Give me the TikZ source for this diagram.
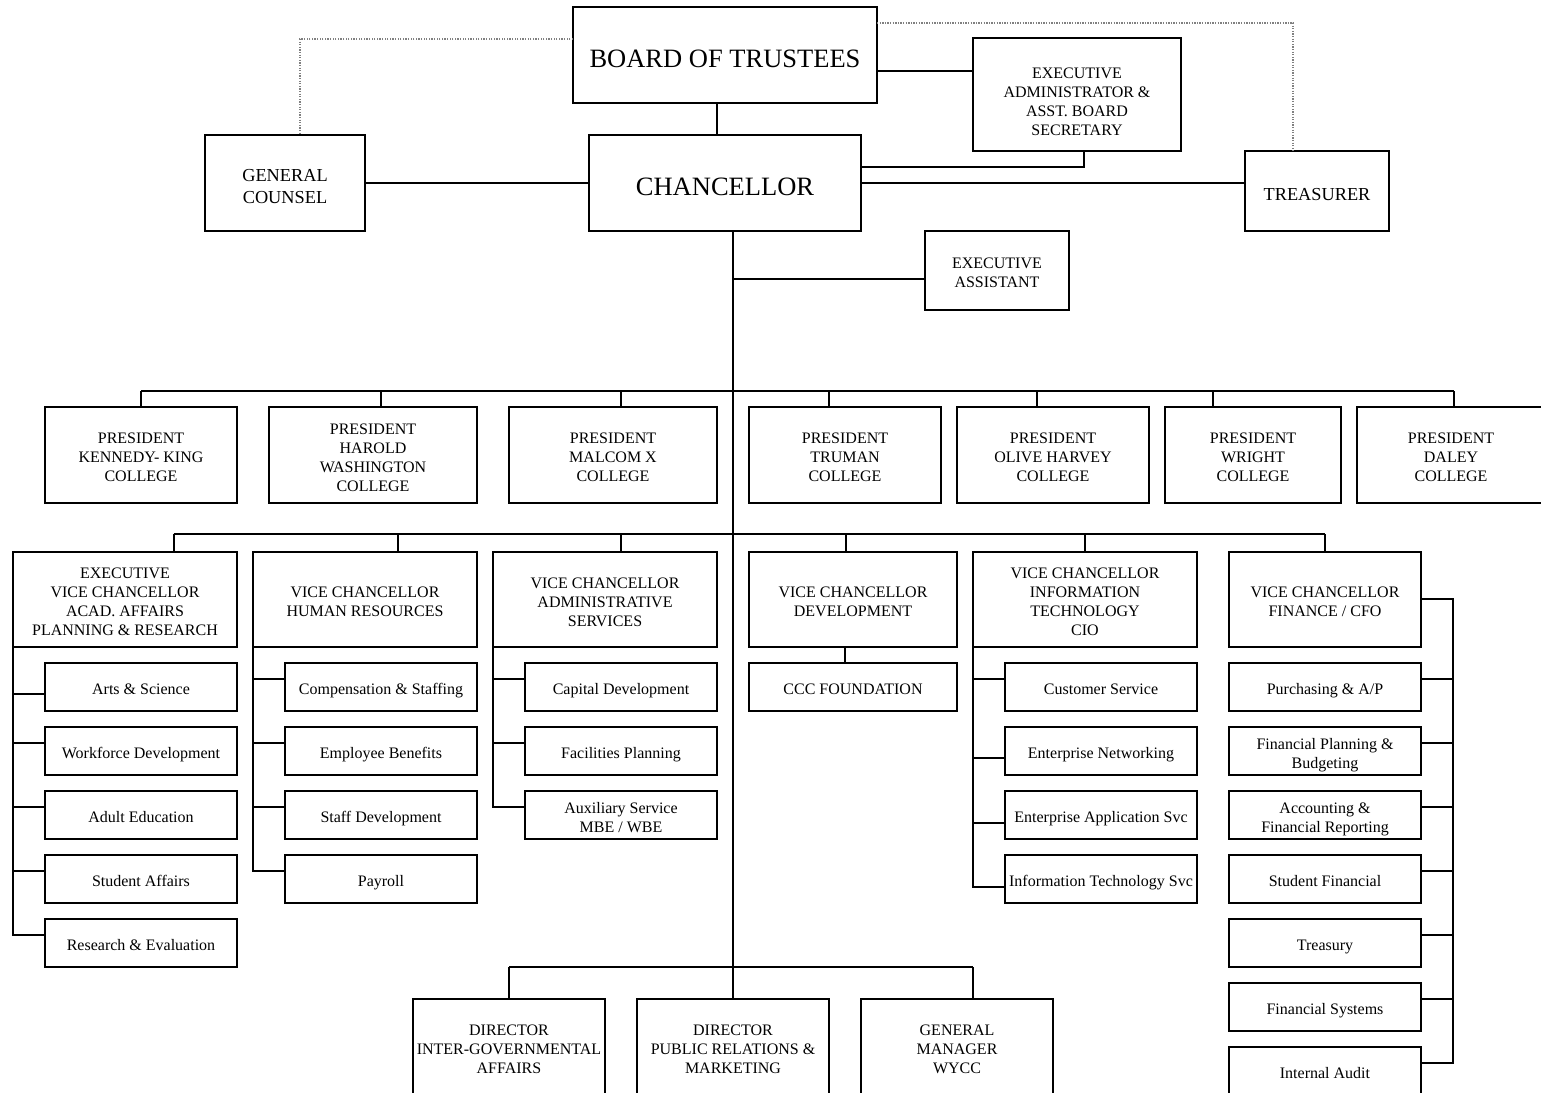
\documentclass[tikz,border=0pt]{standalone}
\usepackage{fontspec}
\setmainfont{Liberation Serif}
\tikzset{
  box/.style={draw, line width=2pt, inner sep=0pt, outer sep=0pt, align=center, fill=white},
  sm/.style={font=\fontsize{16}{19}\selectfont},
  md/.style={font=\fontsize{18.3}{22}\selectfont},
  lg/.style={font=\fontsize{26.5}{30}\selectfont},
  conn/.style={line width=2pt, line join=miter},
  dotline/.style={line width=1.3pt, gray, dash pattern=on 1.3pt off 1.3pt},
}
\newcommand\tstrut{\rule{0pt}{1.05\baselineskip}}
\newcommand\bstrut{\rule[-0.21\baselineskip]{0pt}{0.21\baselineskip}}
% [style]{name}{x1}{y1}{x2}{y2}{text}
\newcommand\orgbox[7][sm]{%
  \node[box,#1,minimum width={#5-#3},minimum height={#6-#4}] (#2)
    at ({(#3+#5)/2},{(#4+#6)/2}) {\tstrut#7\bstrut};}
\begin{document}
\begin{tikzpicture}[x=1pt,y=-1pt]
\clip (0,0) rectangle (1541,1092);
\fill[white] (0,0) rectangle (1541,1092);

\coordinate (jb) at (717,0);
\coordinate (jbe) at (0,71);
\coordinate (jea) at (1084,167);
\coordinate (jt) at (0,183);
\coordinate (dgc) at (300,39);
\coordinate (dtr) at (1293,23);
\coordinate (mx) at (733,0);
\coordinate (mb) at (733,967);
\coordinate (jas) at (733,279);

% ---------- top boxes ----------
\orgbox[lg]{board}{573}{7}{877}{103}{BOARD OF TRUSTEES}
\orgbox{exadm}{973}{38}{1181}{151}{EXECUTIVE\rule{0pt}{28pt}\\ADMINISTRATOR \&\\ASST. BOARD\\SECRETARY}
\orgbox[md]{gc}{205}{135}{365}{231}{GENERAL\\COUNSEL}
\orgbox[lg]{chan}{589}{135}{861}{231}{CHANCELLOR}
\orgbox[md]{treas}{1245}{151}{1389}{231}{TREASURER}
\orgbox{exasst}{925}{231}{1069}{310}{EXECUTIVE\\ASSISTANT}

% ---------- presidents ----------
\orgbox{p1}{45}{407}{237}{503}{PRESIDENT\\KENNEDY- KING\\COLLEGE}
\orgbox{p2}{269}{407}{477}{503}{PRESIDENT\\HAROLD\\WASHINGTON\\COLLEGE}
\orgbox{p3}{509}{407}{717}{503}{PRESIDENT\\MALCOM X\\COLLEGE}
\orgbox{p4}{749}{407}{941}{503}{PRESIDENT\\TRUMAN\\COLLEGE}
\orgbox{p5}{957}{407}{1149}{503}{PRESIDENT\\OLIVE HARVEY\\COLLEGE}
\orgbox{p6}{1165}{407}{1341}{503}{PRESIDENT\\WRIGHT\\COLLEGE}
\orgbox{p7}{1357}{407}{1545}{503}{PRESIDENT\\DALEY\\COLLEGE}

% ---------- vice chancellors ----------
\orgbox{v1}{13}{552}{237}{647}{EXECUTIVE\\VICE CHANCELLOR\\ACAD. AFFAIRS\\PLANNING \& RESEARCH}
\orgbox{v2}{253}{552}{477}{647}{VICE CHANCELLOR\\HUMAN RESOURCES}
\orgbox{v3}{493}{552}{717}{647}{VICE CHANCELLOR\\ADMINISTRATIVE\\SERVICES}
\orgbox{v4}{749}{552}{957}{647}{VICE CHANCELLOR\\DEVELOPMENT}
\orgbox{v5}{973}{552}{1197}{647}{VICE CHANCELLOR\\INFORMATION\\TECHNOLOGY\\CIO}
\orgbox{v6}{1229}{552}{1421}{647}{VICE CHANCELLOR\\FINANCE / CFO}

% ---------- column A ----------
\orgbox{a1}{45}{663}{237}{711}{Arts \& Science}
\orgbox{a2}{45}{727}{237}{775}{Workforce Development}
\orgbox{a3}{45}{791}{237}{839}{Adult Education}
\orgbox{a4}{45}{855}{237}{903}{Student Affairs}
\orgbox{a5}{45}{919}{237}{967}{Research \& Evaluation}
% ---------- column B ----------
\orgbox{b1}{285}{663}{477}{711}{Compensation \& Staffing}
\orgbox{b2}{285}{727}{477}{775}{Employee Benefits}
\orgbox{b3}{285}{791}{477}{839}{Staff Development}
\orgbox{b4}{285}{855}{477}{903}{Payroll}
% ---------- column C ----------
\orgbox{c1}{525}{663}{717}{711}{Capital Development}
\orgbox{c2}{525}{727}{717}{775}{Facilities Planning}
\orgbox{c3}{525}{791}{717}{839}{Auxiliary Service\\MBE / WBE}
% ---------- development ----------
\orgbox{ccc}{749}{663}{957}{711}{CCC FOUNDATION}
% ---------- column E ----------
\orgbox{e1}{1005}{663}{1197}{711}{Customer Service}
\orgbox{e2}{1005}{727}{1197}{775}{Enterprise Networking}
\orgbox{e3}{1005}{791}{1197}{839}{Enterprise Application Svc}
\orgbox{e4}{1005}{855}{1197}{903}{Information Technology Svc}
% ---------- column F ----------
\orgbox{f1}{1229}{663}{1421}{711}{Purchasing \& A/P}
\orgbox{f2}{1229}{727}{1421}{775}{Financial Planning \&\\Budgeting}
\orgbox{f3}{1229}{791}{1421}{839}{Accounting \&\\Financial Reporting}
\orgbox{f4}{1229}{855}{1421}{903}{Student Financial}
\orgbox{f5}{1229}{919}{1421}{967}{Treasury}
\orgbox{f6}{1229}{983}{1421}{1031}{Financial Systems}
\orgbox{f7}{1229}{1047}{1421}{1095}{Internal Audit}

% ---------- bottom ----------
\orgbox{d1}{413}{999}{605}{1095}{DIRECTOR\\INTER-GOVERNMENTAL\\AFFAIRS}
\orgbox{d2}{637}{999}{829}{1095}{DIRECTOR\\PUBLIC RELATIONS \&\\MARKETING}
\orgbox{d3}{861}{999}{1053}{1095}{GENERAL\\MANAGER\\WYCC}

% ---------- top connectors ----------
\draw[conn] (board.south -| jb) -- (chan.north -| jb);
\draw[conn] (board.east |- jbe) -- (exadm.west |- jbe);
\draw[conn] (exadm.south -| jea) -- (jea) -- (chan.east |- jea);
\draw[conn] (chan.east |- jt) -- (treas.west |- jt);
\draw[conn] (gc.east |- jt) -- (chan.west |- jt);
\draw[dotline] (board.west |- dgc) -- (dgc) -- (gc.north -| dgc);
\draw[dotline] (board.east |- dtr) -- (dtr) -- (treas.north -| dtr);

% main spine
\draw[conn] (chan.south -| mx) -- (mb) -- (d2.north);
\draw[conn] (jas) -- (exasst.west |- jas);

% presidents bus
\foreach \n/\x in {p1/141,p2/381,p3/621,p4/829,p5/1037,p6/1213,p7/1453.6}{
  \coordinate (j\n) at (\x,391);
  \draw[conn] (j\n) -- (j\n |- \n.north);
}
\draw[conn] (jp1) -- (jp7);

% vice chancellor bus
\foreach \n/\x in {v1/173.5,v2/397.5,v3/621,v4/845.7,v5/1085,v6/1325}{
  \coordinate (j\n) at (\x,534);
  \draw[conn] (j\n) -- (j\n |- \n.north);
}
\draw[conn] (jv1) -- (jv6);

% bottom bus
\coordinate (jd1) at (509,967);
\coordinate (jd3) at (973,967);
\draw[conn] (jd1) -- (jd3);
\draw[conn] (jd1) -- (d1.north);
\draw[conn] (jd3) -- (jd3 |- d3.north);

% CCC
\coordinate (jccc) at (845,0);
\draw[conn] (v4.south -| jccc) -- (ccc.north -| jccc);

% column A
\foreach \n/\y in {a1/694,a2/743,a3/807,a4/871}{
  \coordinate (k\n) at (13,\y);
  \draw[conn] (k\n) -- (\n.west |- k\n);
}
\coordinate (ka5) at (13,935);
\draw[conn] (v1.south west) -- (ka5) -- (a5.west |- ka5);

% column B
\foreach \n/\y in {b1/679,b2/743,b3/807}{
  \coordinate (k\n) at (253,\y);
  \draw[conn] (k\n) -- (\n.west |- k\n);
}
\coordinate (kb4) at (253,871);
\draw[conn] (v2.south west) -- (kb4) -- (b4.west |- kb4);

% column C
\foreach \n/\y in {c1/679,c2/743}{
  \coordinate (k\n) at (493,\y);
  \draw[conn] (k\n) -- (\n.west |- k\n);
}
\coordinate (kc3) at (493,807);
\draw[conn] (v3.south west) -- (kc3) -- (c3.west |- kc3);

% column E
\foreach \n/\y in {e1/679,e2/758,e3/823}{
  \coordinate (k\n) at (973,\y);
  \draw[conn] (k\n) -- (\n.west |- k\n);
}
\coordinate (ke4) at (973,887);
\draw[conn] (v5.south west) -- (ke4) -- (e4.west |- ke4);

% column F (right side)
\coordinate (kv6) at (1453,599);
\foreach \n/\y in {f1/679,f2/743,f3/807,f4/871,f5/935,f6/999}{
  \coordinate (k\n) at (1453,\y);
  \draw[conn] (k\n) -- (\n.east |- k\n);
}
\coordinate (kf7) at (1453,1063);
\draw[conn] (v6.east |- kv6) -- (kv6) -- (kf7) -- (f7.east |- kf7);
\end{tikzpicture}
\end{document}
